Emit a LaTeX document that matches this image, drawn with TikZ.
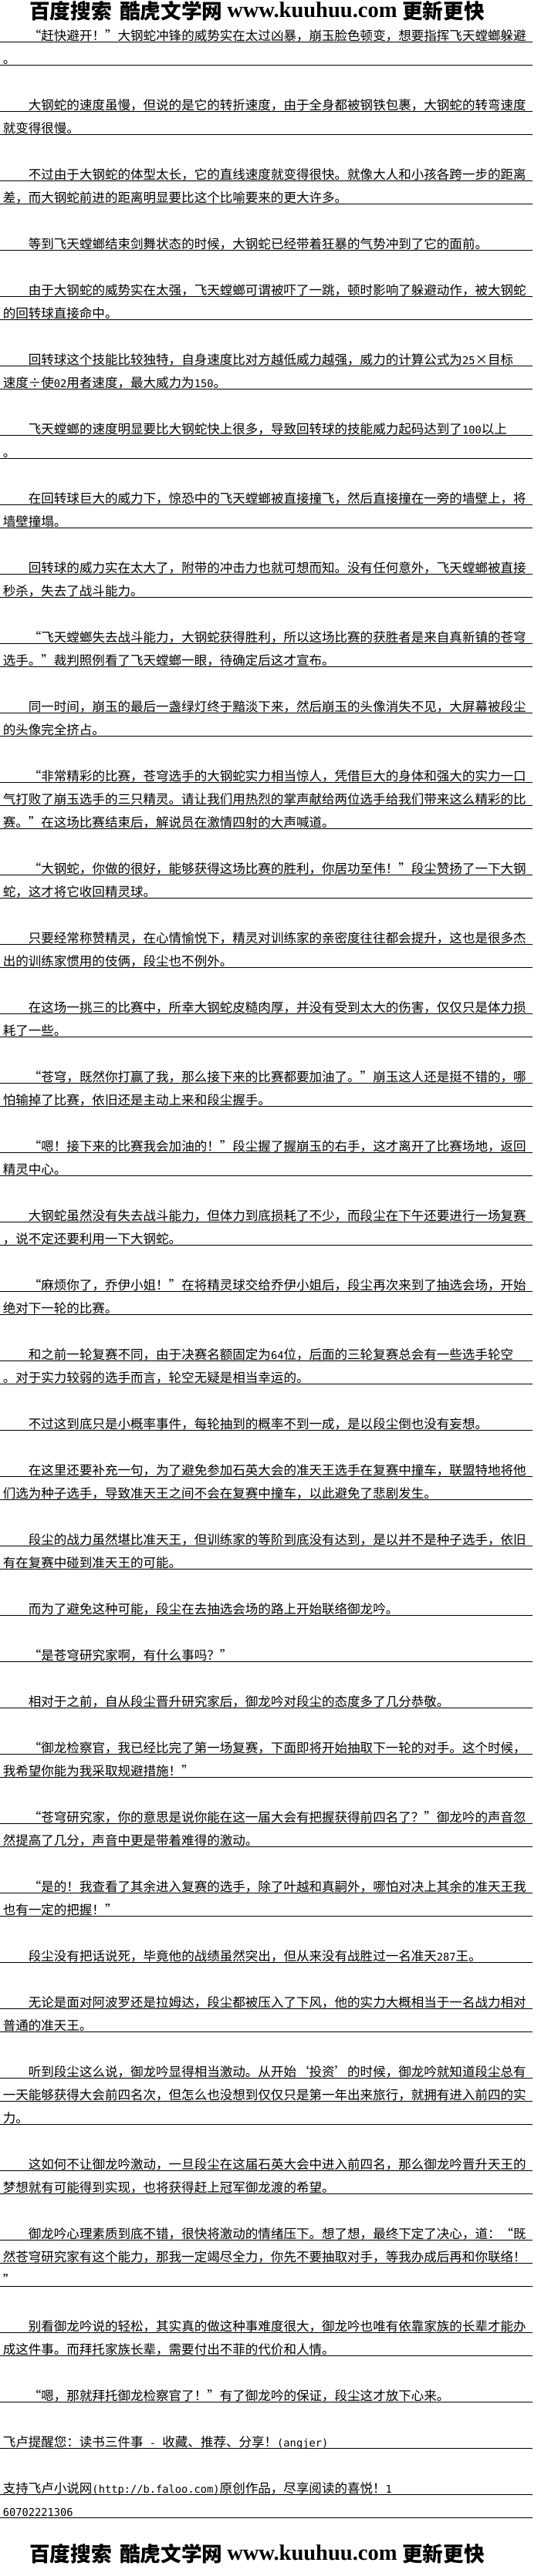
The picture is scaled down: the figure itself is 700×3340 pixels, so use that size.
\documentclass[tikz,border=0pt]{standalone}
\usepackage{fontspec}
\setmainfont{Noto Sans CJK SC}[CharacterWidth=Full]
\newfontfamily\ascfont{DejaVu Sans Mono}[Scale=0.83]
\newfontfamily\logocn{Noto Sans CJK SC}
\newfontfamily\logourl{Liberation Serif}
\newcommand{\asc}[1]{{\ascfont #1}}
\tikzset{
  txt/.style={anchor=base west, inner sep=0pt, font=\fontsize{12.4pt}{14pt}\selectfont},
  logotxt/.style={anchor=base west, inner sep=0pt, font=\logocn\bfseries\fontsize{20pt}{22pt}\selectfont},
  logoweb/.style={anchor=base west, inner sep=0pt, font=\logourl\bfseries\fontsize{21.4pt}{24pt}\selectfont},
  underrule/.style={line width=0.75pt}
}
\begin{document}
\begin{tikzpicture}[x=0.75pt, y=-0.75pt]
  \path [fill=white, use as bounding box] (0, 0) rectangle (700, 3340);
  % site banner, top and bottom
  \node [logotxt] (baidu) at (38, 25) {百度搜索};
  \node [logotxt] (kuhu) at (155, 25) {酷虎文学网};
  \node [logoweb] (site) at (294, 22.5) {www.kuuhuu.com};
  \node [logotxt] (gengxin) at (521, 25) {更新更快};
  \node [logotxt] (baidu2) at (38, 3321.7) {百度搜索};
  \node [logotxt] (kuhu2) at (155, 3321.7) {酷虎文学网};
  \node [logoweb] (site2) at (294, 3319.2) {www.kuuhuu.com};
  \node [logotxt] (gengxin2) at (521, 3321.7) {更新更快};
  % ruled lines under every printed line
  \foreach \k in {1,2,4,5,7,8,10,12,13,15,16,18,19,21,22,24,25,27,28,30,31,33,34,35,37,38,40,41,43,44,46,47,49,50,52,53,55,56,58,59,61,63,64,66,67,69,71,73,75,76,78,79,81,82,84,86,87,89,90,91,93,94,96,97,98,100,101,103,105,107,108}
    \draw [underrule] (0, 30*\k+24.3) -- (690, 30*\k+24.3);
  % text
  \node [txt] (l1) at (36.6, 52.3) {“赶快避开！”大钢蛇冲锋的威势实在太过凶暴，崩玉脸色顿变，想要指挥飞天螳螂躲避};
  \node [txt] (l2) at (3.5, 82.3) {。};
  \node [txt] (l4) at (36.6, 142.3) {大钢蛇的速度虽慢，但说的是它的转折速度，由于全身都被钢铁包裹，大钢蛇的转弯速度};
  \node [txt] (l5) at (3.5, 172.3) {就变得很慢。};
  \node [txt] (l7) at (36.6, 232.3) {不过由于大钢蛇的体型太长，它的直线速度就变得很快。就像大人和小孩各跨一步的距离};
  \node [txt] (l8) at (3.5, 262.3) {差，而大钢蛇前进的距离明显要比这个比喻要来的更大许多。};
  \node [txt] (l10) at (36.6, 322.3) {等到飞天螳螂结束剑舞状态的时候，大钢蛇已经带着狂暴的气势冲到了它的面前。};
  \node [txt] (l12) at (36.6, 382.3) {由于大钢蛇的威势实在太强，飞天螳螂可谓被吓了一跳，顿时影响了躲避动作，被大钢蛇};
  \node [txt] (l13) at (3.5, 412.3) {的回转球直接命中。};
  \node [txt] (l15) at (36.6, 472.3) {回转球这个技能比较独特，自身速度比对方越低威力越强，威力的计算公式为\asc{25}×目标};
  \node [txt] (l16) at (3.5, 502.3) {速度÷使\asc{02}用者速度，最大威力为\asc{150}。};
  \node [txt] (l18) at (36.6, 562.3) {飞天螳螂的速度明显要比大钢蛇快上很多，导致回转球的技能威力起码达到了\asc{100}以上};
  \node [txt] (l19) at (3.5, 592.3) {。};
  \node [txt] (l21) at (36.6, 652.3) {在回转球巨大的威力下，惊恐中的飞天螳螂被直接撞飞，然后直接撞在一旁的墙壁上，将};
  \node [txt] (l22) at (3.5, 682.3) {墙壁撞塌。};
  \node [txt] (l24) at (36.6, 742.3) {回转球的威力实在太大了，附带的冲击力也就可想而知。没有任何意外，飞天螳螂被直接};
  \node [txt] (l25) at (3.5, 772.3) {秒杀，失去了战斗能力。};
  \node [txt] (l27) at (36.6, 832.3) {“飞天螳螂失去战斗能力，大钢蛇获得胜利，所以这场比赛的获胜者是来自真新镇的苍穹};
  \node [txt] (l28) at (3.5, 862.3) {选手。”裁判照例看了飞天螳螂一眼，待确定后这才宣布。};
  \node [txt] (l30) at (36.6, 922.3) {同一时间，崩玉的最后一盏绿灯终于黯淡下来，然后崩玉的头像消失不见，大屏幕被段尘};
  \node [txt] (l31) at (3.5, 952.3) {的头像完全挤占。};
  \node [txt] (l33) at (36.6, 1012.3) {“非常精彩的比赛，苍穹选手的大钢蛇实力相当惊人，凭借巨大的身体和强大的实力一口};
  \node [txt] (l34) at (3.5, 1042.3) {气打败了崩玉选手的三只精灵。请让我们用热烈的掌声献给两位选手给我们带来这么精彩的比};
  \node [txt] (l35) at (3.5, 1072.3) {赛。”在这场比赛结束后，解说员在激情四射的大声喊道。};
  \node [txt] (l37) at (36.6, 1132.3) {“大钢蛇，你做的很好，能够获得这场比赛的胜利，你居功至伟！”段尘赞扬了一下大钢};
  \node [txt] (l38) at (3.5, 1162.3) {蛇，这才将它收回精灵球。};
  \node [txt] (l40) at (36.6, 1222.3) {只要经常称赞精灵，在心情愉悦下，精灵对训练家的亲密度往往都会提升，这也是很多杰};
  \node [txt] (l41) at (3.5, 1252.3) {出的训练家惯用的伎俩，段尘也不例外。};
  \node [txt] (l43) at (36.6, 1312.3) {在这场一挑三的比赛中，所幸大钢蛇皮糙肉厚，并没有受到太大的伤害，仅仅只是体力损};
  \node [txt] (l44) at (3.5, 1342.3) {耗了一些。};
  \node [txt] (l46) at (36.6, 1402.3) {“苍穹，既然你打赢了我，那么接下来的比赛都要加油了。”崩玉这人还是挺不错的，哪};
  \node [txt] (l47) at (3.5, 1432.3) {怕输掉了比赛，依旧还是主动上来和段尘握手。};
  \node [txt] (l49) at (36.6, 1492.3) {“嗯！接下来的比赛我会加油的！”段尘握了握崩玉的右手，这才离开了比赛场地，返回};
  \node [txt] (l50) at (3.5, 1522.3) {精灵中心。};
  \node [txt] (l52) at (36.6, 1582.3) {大钢蛇虽然没有失去战斗能力，但体力到底损耗了不少，而段尘在下午还要进行一场复赛};
  \node [txt] (l53) at (3.5, 1612.3) {，说不定还要利用一下大钢蛇。};
  \node [txt] (l55) at (36.6, 1672.3) {“麻烦你了，乔伊小姐！”在将精灵球交给乔伊小姐后，段尘再次来到了抽选会场，开始};
  \node [txt] (l56) at (3.5, 1702.3) {绝对下一轮的比赛。};
  \node [txt] (l58) at (36.6, 1762.3) {和之前一轮复赛不同，由于决赛名额固定为\asc{64}位，后面的三轮复赛总会有一些选手轮空};
  \node [txt] (l59) at (3.5, 1792.3) {。对于实力较弱的选手而言，轮空无疑是相当幸运的。};
  \node [txt] (l61) at (36.6, 1852.3) {不过这到底只是小概率事件，每轮抽到的概率不到一成，是以段尘倒也没有妄想。};
  \node [txt] (l63) at (36.6, 1912.3) {在这里还要补充一句，为了避免参加石英大会的准天王选手在复赛中撞车，联盟特地将他};
  \node [txt] (l64) at (3.5, 1942.3) {们选为种子选手，导致准天王之间不会在复赛中撞车，以此避免了悲剧发生。};
  \node [txt] (l66) at (36.6, 2002.3) {段尘的战力虽然堪比准天王，但训练家的等阶到底没有达到，是以并不是种子选手，依旧};
  \node [txt] (l67) at (3.5, 2032.3) {有在复赛中碰到准天王的可能。};
  \node [txt] (l69) at (36.6, 2092.3) {而为了避免这种可能，段尘在去抽选会场的路上开始联络御龙吟。};
  \node [txt] (l71) at (36.6, 2152.3) {“是苍穹研究家啊，有什么事吗？”};
  \node [txt] (l73) at (36.6, 2212.3) {相对于之前，自从段尘晋升研究家后，御龙吟对段尘的态度多了几分恭敬。};
  \node [txt] (l75) at (36.6, 2272.3) {“御龙检察官，我已经比完了第一场复赛，下面即将开始抽取下一轮的对手。这个时候，};
  \node [txt] (l76) at (3.5, 2302.3) {我希望你能为我采取规避措施！”};
  \node [txt] (l78) at (36.6, 2362.3) {“苍穹研究家，你的意思是说你能在这一届大会有把握获得前四名了？”御龙吟的声音忽};
  \node [txt] (l79) at (3.5, 2392.3) {然提高了几分，声音中更是带着难得的激动。};
  \node [txt] (l81) at (36.6, 2452.3) {“是的！我查看了其余进入复赛的选手，除了叶越和真嗣外，哪怕对决上其余的准天王我};
  \node [txt] (l82) at (3.5, 2482.3) {也有一定的把握！”};
  \node [txt] (l84) at (36.6, 2542.3) {段尘没有把话说死，毕竟他的战绩虽然突出，但从来没有战胜过一名准天\asc{287}王。};
  \node [txt] (l86) at (36.6, 2602.3) {无论是面对阿波罗还是拉姆达，段尘都被压入了下风，他的实力大概相当于一名战力相对};
  \node [txt] (l87) at (3.5, 2632.3) {普通的准天王。};
  \node [txt] (l89) at (36.6, 2692.3) {听到段尘这么说，御龙吟显得相当激动。从开始‘投资’的时候，御龙吟就知道段尘总有};
  \node [txt] (l90) at (3.5, 2722.3) {一天能够获得大会前四名次，但怎么也没想到仅仅只是第一年出来旅行，就拥有进入前四的实};
  \node [txt] (l91) at (3.5, 2752.3) {力。};
  \node [txt] (l93) at (36.6, 2812.3) {这如何不让御龙吟激动，一旦段尘在这届石英大会中进入前四名，那么御龙吟晋升天王的};
  \node [txt] (l94) at (3.5, 2842.3) {梦想就有可能得到实现，也将获得赶上冠军御龙渡的希望。};
  \node [txt] (l96) at (36.6, 2902.3) {御龙吟心理素质到底不错，很快将激动的情绪压下。想了想，最终下定了决心，道：“既};
  \node [txt] (l97) at (3.5, 2932.3) {然苍穹研究家有这个能力，那我一定竭尽全力，你先不要抽取对手，等我办成后再和你联络！};
  \node [txt] (l98) at (3.5, 2962.3) {”};
  \node [txt] (l100) at (36.6, 3022.3) {别看御龙吟说的轻松，其实真的做这种事难度很大，御龙吟也唯有依靠家族的长辈才能办};
  \node [txt] (l101) at (3.5, 3052.3) {成这件事。而拜托家族长辈，需要付出不菲的代价和人情。};
  \node [txt] (l103) at (36.6, 3112.3) {“嗯，那就拜托御龙检察官了！”有了御龙吟的保证，段尘这才放下心来。};
  \node [txt] (l105) at (3.5, 3172.3) {飞卢提醒您：读书三件事\asc{ - }收藏、推荐、分享！\asc{(angjer)}};
  \node [txt] (l107) at (3.5, 3232.3) {支持飞卢小说网\asc{(http://b.faloo.com)}原创作品，尽享阅读的喜悦！\asc{1}};
  \node [txt] (l108) at (3.5, 3262.3) {\asc{60702221306}};
\end{tikzpicture}
\end{document}
